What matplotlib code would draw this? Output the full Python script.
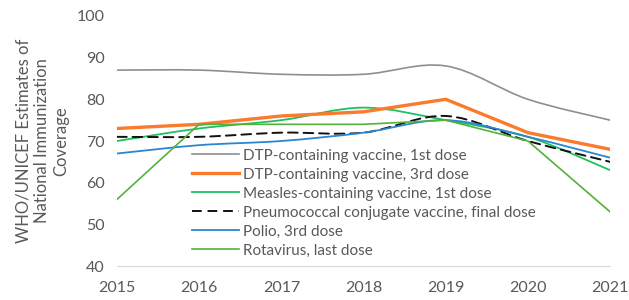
import numpy as np
import matplotlib
matplotlib.use("Agg")
import matplotlib.pyplot as plt
from matplotlib.path import Path
from matplotlib.patches import PathPatch
from matplotlib.lines import Line2D

plt.rcParams['font.family'] = ['Lato', 'DejaVu Sans']

years = [2015, 2016, 2017, 2018, 2019, 2020, 2021]
dtp1 = [87, 87, 86, 86, 88, 80, 75]
dtp3 = [73, 74, 76, 77, 80, 72, 68]
measles1 = [70, 73, 75, 78, 75, 71, 63]
pcv_final = [71, 71, 72, 72, 76, 70, 65]
polio3 = [67, 69, 70, 72, 75, 71, 66]
rota_last = [56, 74, 74, 74, 75, 70, 53]

labels = ["DTP-containing vaccine, 1st dose",
          "DTP-containing vaccine, 3rd dose",
          "Measles-containing vaccine, 1st dose",
          "Pneumococcal conjugate vaccine, final dose",
          "Polio, 3rd dose",
          "Rotavirus, last dose"]


def smooth_path(x, y):
    # bezier segments through the points, like Excel's smoothed line
    p = np.column_stack([x, y]).astype(float)
    n = len(p)
    verts = [p[0]]
    codes = [Path.MOVETO]
    for i in range(n - 1):
        p0 = p[i - 1] if i > 0 else p[i]
        p3 = p[i + 2] if i + 2 < n else p[i + 1]
        c1 = p[i] + (p[i + 1] - p0) / 6
        c2 = p[i + 1] - (p3 - p[i]) / 6
        verts += [c1, c2, p[i + 1]]
        codes += [Path.CURVE4] * 3
    return Path(verts, codes)


fig = plt.figure(figsize=(6.29, 3.0), dpi=100)
ax = fig.add_axes([0.186, 0.113, 0.784, 0.834])

series = [
    (dtp1, '#8f8f8f', 1.2, '-', True),
    (dtp3, '#fa7b2c', 2.4, '-', False),
    (measles1, '#1fbf63', 1.3, '-', True),
    (pcv_final, '#111111', 1.4, (0, (5, 3)), True),
    (polio3, '#2a86d3', 1.3, '-', True),
    (rota_last, '#55b03c', 1.2, '-', False),
]

handles = []
for (vals, col, lw, ls, smooth), lab in zip(series, labels):
    if smooth:
        ax.add_patch(PathPatch(smooth_path(years, vals), fill=False,
                               edgecolor=col, lw=lw, linestyle=ls,
                               capstyle='round'))
    else:
        ax.plot(years, vals, color=col, lw=lw, linestyle=ls,
                solid_joinstyle='miter')
    handles.append(Line2D([], [], color=col, lw=lw, linestyle=ls))

ax.set_xlim(2015, 2021)
ax.set_ylim(40, 100)
ax.set_xticks(years)
ax.set_yticks(range(40, 101, 10))
for s in ['top', 'right', 'left']:
    ax.spines[s].set_visible(False)
ax.spines['bottom'].set_color('#d9d9d9')
ax.tick_params(length=0, labelsize=11.5, colors='#595959')
ax.tick_params(axis='x', pad=11)
ax.tick_params(axis='y', pad=9)

ax.set_ylabel("WHO/UNICEF Estimates of\nNational Immunization\nCoverage",
              fontsize=12, color='#595959', linespacing=1.25, labelpad=5)

ax.legend(handles, labels, loc='upper left', bbox_to_anchor=(0.152, 0.47),
          frameon=False, fontsize=11, labelcolor='#595959',
          handlelength=3.1, handletextpad=0.25, labelspacing=0.33,
          borderaxespad=0, borderpad=0)

fig.savefig("out.png", dpi=100)
